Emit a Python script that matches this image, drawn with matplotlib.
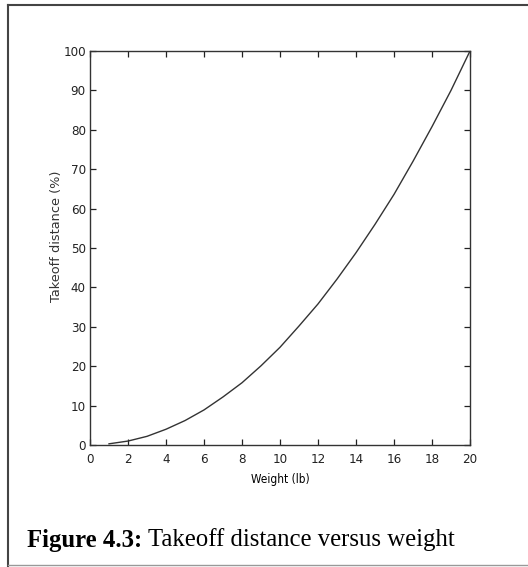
import matplotlib.pyplot as plt
from matplotlib.lines import Line2D

# weight (lb) and takeoff distance as % of the 20 lb value
weight = [1, 2, 3, 4, 5, 6, 7, 8, 9, 10, 11, 12, 13, 14, 15, 16, 17, 18, 19, 20]
takeoff_pct = [0.3, 1.0, 2.2, 4.0, 6.2, 8.9, 12.2, 15.8, 20.1, 24.8, 30.2, 35.8,
               42.1, 48.8, 56.0, 63.6, 72.0, 80.8, 90.0, 100.0]

x_ticks = list(range(0, 21, 2))
y_ticks = list(range(0, 101, 10))

tick_font = ['DejaVu Sans']

fig = plt.figure(figsize=(5.28, 5.67), dpi=100)
ax = fig.add_axes([90 / 528, 1 - 445 / 567, 380 / 528, 394 / 567])

ax.plot(weight, takeoff_pct, color='#333333', linewidth=1.0)
ax.set_xlim(0, 20)
ax.set_ylim(0, 100)
ax.set_xticks(x_ticks)
ax.set_yticks(y_ticks)
ax.tick_params(direction='in', length=4, width=0.9, top=True, right=True,
               labelsize=9.5, colors='#222222')
ax.tick_params(axis='x', pad=6)
ax.tick_params(axis='y', pad=3)
for lbl in ax.get_xticklabels() + ax.get_yticklabels():
    lbl.set_family(tick_font)
    lbl.set_fontstretch('condensed')
for sp in ax.spines.values():
    sp.set_linewidth(1.0)
    sp.set_color('#333333')

ax.set_xlabel('Weight (lb)', fontsize=8.5, family=tick_font, fontstretch='condensed',
              labelpad=5)
fig.text(57 / 528, 1 - 236 / 567, 'Takeoff distance (%)', fontsize=9.3,
         family=tick_font, color='#333333', rotation=90, ha='center', va='center')

# page frame around the figure
fig.add_artist(Line2D([8 / 528, 8 / 528], [0, 1 - 5 / 567], transform=fig.transFigure,
                      color='#444444', linewidth=1.5))
fig.add_artist(Line2D([8 / 528, 1], [1 - 5 / 567, 1 - 5 / 567], transform=fig.transFigure,
                      color='#444444', linewidth=1.5))
fig.add_artist(Line2D([8 / 528, 1], [2 / 567, 2 / 567], transform=fig.transFigure,
                      color='#999999', linewidth=1.0))

# caption: bold figure number followed by plain title
cap_y = 1 - 540 / 567
num = fig.text(27 / 528, cap_y, 'Figure 4.3:', fontsize=17.8, fontweight='bold',
               family='Liberation Serif', va='center', ha='left')
fig.canvas.draw()
bb = num.get_window_extent().transformed(fig.transFigure.inverted())
fig.text(bb.x1 + 6 / 528, cap_y, 'Takeoff distance versus weight', fontsize=17.8,
         family='Liberation Serif', va='center', ha='left')

fig.savefig('out.png', dpi=100)
